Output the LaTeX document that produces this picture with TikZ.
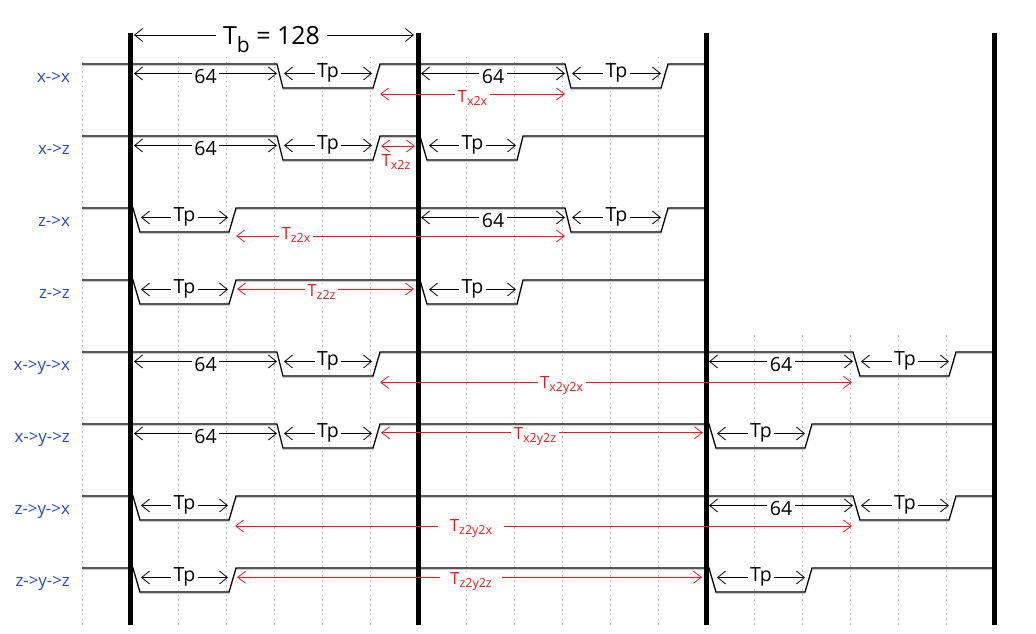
\documentclass[tikz,border=0pt]{standalone}
\usepackage{fontspec}
\setmainfont{Open Sans}
\usetikzlibrary{arrows.meta}
\definecolor{lblblue}{RGB}{28,76,200}
\definecolor{lblred}{RGB}{240,24,24}
\definecolor{gridgray}{RGB}{185,185,185}
\newcommand\lowsub[1]{\raisebox{-3pt}{\fontsize{12.5}{12.5}\selectfont #1}}
% black dimension: name, xa, xb, arrow y, text, baseline y
\newcommand\blkdim[6]{%
  \coordinate (#1a) at (#2,#4);
  \coordinate (#1b) at (#3,#4);
  \draw[dimline] (#1a) -- (#1b);
  \pgfmathsetmacro\midx{(#2+#3)/2}
  \node[blklbl] (#1t) at (\midx,#6) {#5};}
% red dimension: name, xa, xb, arrow y, label x, baseline y, subscript, xsep
\newcommand\reddim[8]{%
  \coordinate (#1a) at (#2,#4);
  \coordinate (#1b) at (#3,#4);
  \draw[reddimline] (#1a) -- (#1b);
  \node[redlbl, inner xsep=#8] (#1t) at (#5,#6) {T\lowsub{#7}};}
\newcommand\sig[1]{\draw[sigshadow] #1; \draw[sigline] #1;}
\begin{document}
\begin{tikzpicture}[x=1pt,y=-1pt,
  sigline/.style={line width=1.2pt, line join=miter},
  sigshadow/.style={line width=1.2pt, gray!40, yshift=-1.5pt},
  thickbar/.style={line width=5pt},
  gridline/.style={gridgray, line width=0.6pt, dash pattern=on 1.5pt off 3.3pt},
  dimline/.style={line width=0.8pt, {Straight Barb[length=8pt,width=13pt,line width=0.8pt]}-{Straight Barb[length=8pt,width=13pt,line width=0.8pt]}},
  reddimline/.style={lblred, line width=0.8pt, {Straight Barb[length=8pt,width=12pt,line width=0.8pt]}-{Straight Barb[length=8pt,width=12pt,line width=0.8pt]}},
  blklbl/.style={anchor=base, fill=white, inner xsep=2.5pt, inner ysep=0pt, font=\fontsize{19.5}{19.5}\selectfont},
  redlbl/.style={anchor=base, fill=white, inner ysep=0pt, text=lblred, font=\fontsize{16.8}{17}\selectfont},
  rowlbl/.style={anchor=base east, inner sep=0pt, text=lblblue, font=\fontsize{16.8}{16.8}\selectfont}]
\useasboundingbox (0,0) rectangle (1036,634);
% grid
\foreach \k in {0,...,13} { \draw[gridline] (82+48*\k,57) -- (82+48*\k,625); }
\foreach \k in {14,...,18} { \draw[gridline] (82+48*\k,335) -- (82+48*\k,625); }
% signals
\sig{(82,64)--(277,64)--(283,88)--(373,88)--(380,64)--(565,64)--(571,88)--(661,88)--(668,64)--(706,64)}
\sig{(82,136)--(277,136)--(283,160)--(373,160)--(380,136)--(420,136)--(427,160)--(517,160)--(523,136)--(706,136)}
\sig{(82,208)--(133,208)--(140,232)--(229,232)--(236,208)--(565,208)--(571,232)--(661,232)--(668,208)--(706,208)}
\sig{(82,280)--(133,280)--(140,304)--(229,304)--(236,280)--(420,280)--(427,304)--(517,304)--(523,280)--(706,280)}
\sig{(82,352)--(277,352)--(283,376)--(373,376)--(380,352)--(853,352)--(860,376)--(949,376)--(956,352)--(994,352)}
\sig{(82,424)--(277,424)--(283,448)--(373,448)--(380,424)--(709,424)--(716,448)--(805,448)--(812,424)--(994,424)}
\sig{(82,496)--(133,496)--(140,520)--(229,520)--(236,496)--(853,496)--(860,520)--(949,520)--(956,496)--(994,496)}
\sig{(82,568)--(133,568)--(140,592)--(229,592)--(236,568)--(709,568)--(716,592)--(805,592)--(812,568)--(994,568)}
% bit boundaries
\foreach \x/\n in {130.5/b0,418.5/b1,706.5/b2,994.5/b3} {
  \coordinate (\n t) at (\x,33); \coordinate (\n b) at (\x,625);
  \draw[thickbar] (\n t) -- (\n b); }
% Tb
\coordinate (tba) at (134,35); \coordinate (tbb) at (414,35);
\draw[dimline] (tba) -- (tbb);
\node[anchor=base, fill=white, inner xsep=7pt, inner ysep=0pt, font=\fontsize{25}{25}\selectfont] (tbl) at (271.5,45)
  {T\raisebox{-8pt}{\fontsize{21}{21}\selectfont b} = 128};
% row labels
\node[rowlbl] (l1) at (70,82.7) {x->x};
\node[rowlbl] (l2) at (70,154.7) {x->z};
\node[rowlbl] (l3) at (70,226.7) {z->x};
\node[rowlbl] (l4) at (70,298.7) {z->z};
\node[rowlbl] (l5) at (70,370.7) {x->y->x};
\node[rowlbl] (l6) at (70,442.7) {x->y->z};
\node[rowlbl] (l7) at (70,514.7) {z->y->x};
\node[rowlbl] (l8) at (70,586.7) {z->y->z};
% row 1 (H=64)
\blkdim{ra1}{134}{277}{73.5}{64}{83}
\blkdim{ra2}{284}{372}{73.5}{Tp}{77.3}
\blkdim{ra3}{421}{565}{73.5}{64}{83}
\blkdim{ra4}{572}{661}{73.5}{Tp}{77.3}
\reddim{ra5}{380}{565}{94}{472.5}{102.7}{x2x}{2.5pt}
% row 2 (H=136)
\blkdim{rb1}{134}{277}{145.5}{64}{155}
\blkdim{rb2}{284}{372}{145.5}{Tp}{149.3}
\blkdim{rb3}{429}{516}{145.5}{Tp}{149.3}
\coordinate (rb4a) at (381,146); \coordinate (rb4b) at (415,146);
\draw[reddimline] (rb4a) -- (rb4b);
\node[redlbl, fill=none, inner xsep=0pt] (rb4t) at (396,166) {T\lowsub{x2z}};
% row 3 (H=208)
\blkdim{rc1}{141}{228}{217.5}{Tp}{221.3}
\blkdim{rc2}{421}{565}{217.5}{64}{227}
\blkdim{rc3}{572}{661}{217.5}{Tp}{221.3}
\reddim{rc4}{236}{565}{236}{296}{239.3}{z2x}{2.5pt}
% row 4 (H=280)
\blkdim{rd1}{141}{228}{289.5}{Tp}{293.3}
\blkdim{rd2}{429}{516}{289.5}{Tp}{293.3}
\reddim{rd3}{237}{414}{289}{321.5}{296.7}{z2z}{2.5pt}
% row 5 (H=352)
\blkdim{re1}{134}{277}{361.5}{64}{371}
\blkdim{re2}{284}{372}{361.5}{Tp}{365.3}
\blkdim{re3}{709}{853}{361.5}{64}{371}
\blkdim{re4}{861}{949}{361.5}{Tp}{365.3}
\reddim{re5}{380}{852}{382.3}{561.5}{388.3}{x2y2x}{2.5pt}
% row 6 (H=424)
\blkdim{rf1}{134}{277}{433.5}{64}{443}
\blkdim{rf2}{284}{372}{433.5}{Tp}{437.3}
\blkdim{rf3}{717}{805}{433.5}{Tp}{437.3}
\reddim{rf4}{381}{703}{432.7}{535}{439}{x2y2z}{2.5pt}
% row 7 (H=496)
\blkdim{rg1}{141}{228}{505.5}{Tp}{509.3}
\blkdim{rg2}{709}{853}{505.5}{64}{515}
\blkdim{rg3}{861}{949}{505.5}{Tp}{509.3}
\reddim{rg4}{235}{852}{526}{471}{531.7}{z2y2x}{12pt}
% row 8 (H=568)
\blkdim{rh1}{141}{228}{577.5}{Tp}{581.3}
\blkdim{rh2}{717}{805}{577.5}{Tp}{581.3}
\reddim{rh3}{237}{702}{577.3}{471}{584}{z2y2z}{10pt}
\end{tikzpicture}
\end{document}
